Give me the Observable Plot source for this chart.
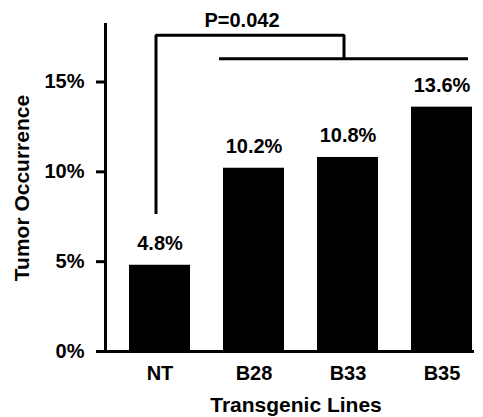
<!DOCTYPE html>
<html><head><meta charset="utf-8">
<script src="https://cdn.jsdelivr.net/npm/d3@7"></script>
<script src="https://cdn.jsdelivr.net/npm/@observablehq/plot@0.6"></script>
<style>body{margin:0;background:#fff}</style>
</head><body><div id="chart"></div>
<script>
// Categories and values
const lines = ["NT", "B28", "B33", "B35"];
const occurrence = [4.8, 10.2, 10.8, 13.6];
const yTicks = [0, 5, 10, 15];
// Significance annotation (in data units)
const pLabel = "P=0.042";
const pAt = "B28";
const pY = 18.05;
const bracketX = ["NT", "NT", "B33", "B33"];
const bracketY = [7.65, 17.6, 17.6, 16.3];
const groupFrom = "B28";
const groupTo = "B35";
const groupY = 16.3;
const xTitle = "Transgenic Lines";
const yTitle = "Tumor Occurrence";

const data = lines.map((k, i) => ({line: k, value: occurrence[i]}));
const bracket = bracketX.map((x, i) => ({x, y: bracketY[i]}));

const chart = Plot.plot({
  width: 483, height: 417,
  marginTop: 24, marginBottom: 66, marginLeft: 105, marginRight: 11,
  style: {fontFamily: "'Liberation Sans', Arial, sans-serif", fontSize: "20px", fontWeight: "bold", color: "#000", background: "#fff", overflow: "visible"},
  x: {domain: lines, paddingInner: 0.35, paddingOuter: 0.12, align: 1},
  y: {domain: [0, 18.2]},
  marks: [
    Plot.barY(data, {x: "line", y: "value", fill: "#000"}),
    Plot.text(data, {x: "line", y: "value", text: d => d.value.toFixed(1) + "%", lineAnchor: "bottom", dy: -15, fill: "#000", fontSize: 20}),
    Plot.line(bracket, {x: "x", y: "y", stroke: "#000", strokeWidth: 3, dx: -4, strokeLinejoin: "miter", strokeLinecap: "butt"}),
    Plot.ruleY([{y: groupY, from: groupFrom, to: groupTo}], {y: "y", x1: "from", x2: "to", dx: -4, stroke: "#000", strokeWidth: 3}),
    Plot.text([{x: pAt, y: pY, t: pLabel}], {x: "x", y: "y", text: "t", lineAnchor: "bottom", dx: -12, fill: "#000", fontSize: 20}),
    Plot.axisY({ticks: yTicks, tickFormat: () => "", tickSize: 9, strokeWidth: 3, label: null, stroke: "#000"}),
    Plot.text(yTicks, {y: d => d, text: d => d + "%", frameAnchor: "left", textAnchor: "end", lineAnchor: "middle", dx: -21, fill: "#000", fontSize: 20}),
    Plot.axisX({tickSize: 0, tickPadding: 14, label: null, fill: "#000", fontSize: 20}),
    Plot.frame({anchor: "left", strokeWidth: 3, stroke: "#000", strokeLinecap: "square"}),
    Plot.frame({anchor: "bottom", strokeWidth: 3, stroke: "#000", strokeLinecap: "square"}),
    Plot.text([yTitle], {text: d => d, frameAnchor: "left", textAnchor: "middle", lineAnchor: "middle", rotate: -90, dx: -83.7, fontSize: 21, fill: "#000"}),
    Plot.text([xTitle], {text: d => d, frameAnchor: "bottom", textAnchor: "middle", lineAnchor: "bottom", dx: 7, dy: 60, fontSize: 21, fill: "#000"})
  ]
});
document.getElementById("chart").appendChild(chart);
</script>
</body></html>
